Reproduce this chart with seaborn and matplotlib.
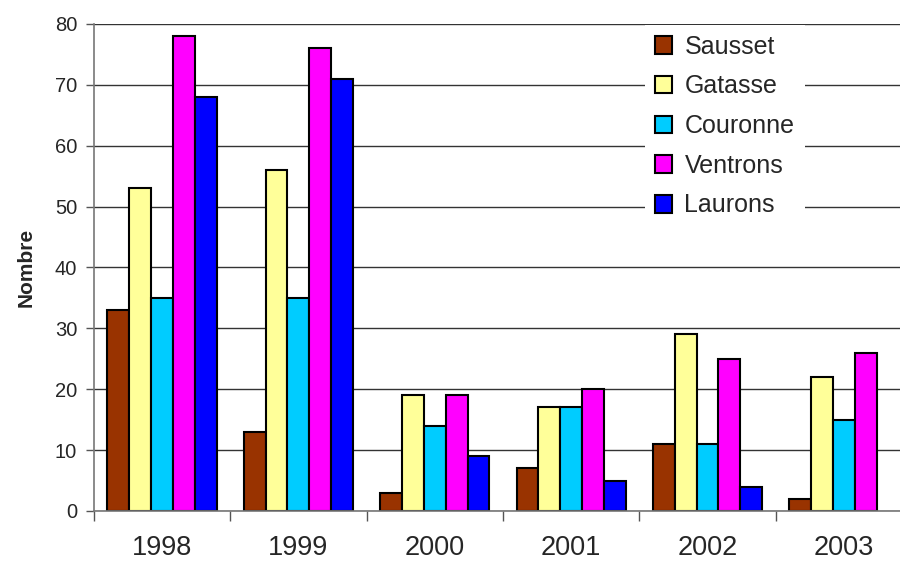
import numpy as np
import pandas as pd
import matplotlib
matplotlib.use("Agg")
import matplotlib.pyplot as plt
import seaborn as sns

years = ["1998", "1999", "2000", "2001", "2002", "2003"]
sites = ["Sausset", "Gatasse", "Couronne", "Ventrons", "Laurons"]
sausset = [33, 13, 3, 7, 11, 2]
gatasse = [53, 56, 19, 17, 29, 22]
couronne = [35, 35, 14, 17, 11, 15]
ventrons = [78, 76, 19, 20, 25, 26]
laurons = [68, 71, 9, 5, 4, np.nan]
colors = ["#993300", "#FFFF99", "#00CCFF", "#FF00FF", "#0000FF"]

series = [sausset, gatasse, couronne, ventrons, laurons]
rows = []
for site, vals in zip(sites, series):
    for yr, v in zip(years, vals):
        rows.append({"Année": yr, "Site": site, "Nombre": v})
df = pd.DataFrame(rows)

sns.set_theme(style="white")
plt.rcParams["font.family"] = ["Liberation Sans", "DejaVu Sans"]

fig = plt.figure(figsize=(9, 5.63), dpi=100)
ax = fig.add_axes([0.1042, 0.0924, 0.9093, 0.865])

ax.set_axisbelow(True)
ax.yaxis.grid(True, color="#333333", linewidth=1.0)

sns.barplot(data=df, x="Année", y="Nombre", hue="Site", order=years,
            hue_order=sites, palette=colors, width=0.8, edgecolor="black",
            linewidth=1.5, saturation=1, ax=ax)

ax.set_ylim(0, 80)
ax.set_xlim(-0.5, len(years) - 0.5)
ax.set_yticks(range(0, 81, 10))
ax.tick_params(axis="y", labelsize=14.5, length=6, width=1, color="#555555",
               left=True, direction="out", pad=6)
ax.tick_params(axis="x", which="major", labelsize=19.5, length=0, pad=17)
ax.set_xticks(np.arange(-0.5, len(years)), minor=True)
ax.tick_params(axis="x", which="minor", length=7, width=1, color="#555555",
               bottom=True, direction="out")
ax.set_xlabel("")
ax.set_ylabel("Nombre", fontsize=15, fontweight="bold", labelpad=14)

for side in ["top", "right"]:
    ax.spines[side].set_visible(False)
for side in ["left", "bottom"]:
    ax.spines[side].set_color("#777777")
    ax.spines[side].set_linewidth(1.2)

handles, labels = ax.get_legend_handles_labels()
ax.get_legend().remove()
leg = ax.legend(handles, labels, loc="upper left",
                bbox_to_anchor=(632 / 900, 1 - 12 / 563),
                bbox_transform=fig.transFigure, frameon=True, fancybox=False,
                framealpha=1, edgecolor="white", fontsize=18,
                handlelength=0.7, handleheight=0.7, handletextpad=0.5,
                labelspacing=0.63, borderpad=0.4)
leg.get_frame().set_linewidth(0)
for h in leg.legend_handles:
    h.set_edgecolor("black")
    h.set_linewidth(1.5)

fig.savefig("out.png", dpi=100)
